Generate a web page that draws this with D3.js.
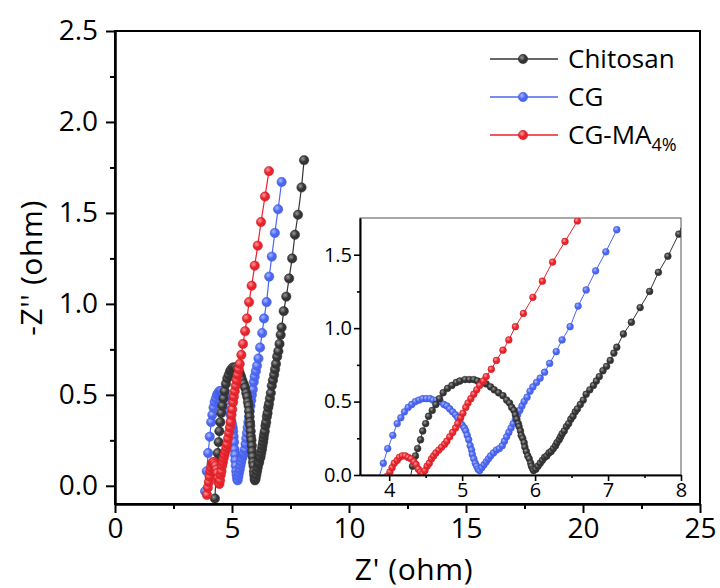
<!DOCTYPE html>
<html>
<head>
<meta charset="utf-8">
<script src="https://cdn.jsdelivr.net/npm/d3@7"></script>
<style>
  body { margin: 0; background: #fff; }
  svg { display: block; font-family: "Open Sans", "Noto Sans", sans-serif; }
</style>
</head>
<body>
<svg id="chart" width="720" height="588"></svg>
<script>
// Nyquist data, [Z' (ohm), -Z'' (ohm)]
const chitosan = [
  [4.27,-0.07],[4.32,0.06],[4.36,0.13],[4.39,0.18],[4.43,0.24],[4.46,0.30],[4.50,0.35],[4.54,0.40],
  [4.59,0.44],[4.64,0.48],[4.69,0.52],[4.74,0.56],[4.80,0.59],[4.86,0.61],[4.92,0.63],[4.97,0.64],
  [5.04,0.65],[5.10,0.65],[5.16,0.65],[5.21,0.64],[5.27,0.63],[5.33,0.62],[5.39,0.60],[5.44,0.58],
  [5.50,0.56],[5.56,0.54],[5.61,0.51],[5.65,0.49],[5.68,0.46],[5.71,0.44],[5.73,0.41],[5.75,0.38],
  [5.77,0.35],[5.78,0.33],[5.80,0.30],[5.81,0.27],[5.83,0.25],[5.85,0.22],[5.86,0.19],[5.88,0.16],
  [5.90,0.13],[5.92,0.11],[5.94,0.08],[5.95,0.06],[5.97,0.04],[5.98,0.03],[6.01,0.04],[6.04,0.06],
  [6.07,0.08],[6.10,0.10],[6.13,0.12],[6.16,0.13],[6.19,0.15],[6.22,0.16],[6.25,0.18],[6.28,0.20],
  [6.30,0.22],[6.33,0.24],[6.35,0.26],[6.37,0.28],[6.40,0.30],[6.43,0.33],[6.46,0.35],[6.49,0.38],
  [6.52,0.40],[6.55,0.43],[6.58,0.45],[6.62,0.48],[6.66,0.51],[6.70,0.55],[6.75,0.58],[6.80,0.61],
  [6.84,0.64],[6.88,0.67],[6.93,0.71],[6.98,0.74],[7.03,0.78],[7.08,0.83],[7.12,0.87],[7.21,0.96],
  [7.32,1.04],[7.44,1.14],[7.57,1.25],[7.69,1.38],[7.82,1.49],[7.97,1.64],[8.08,1.79]
];
const cg = [
  [3.85,-0.03],[3.92,0.08],[3.98,0.18],[4.05,0.27],[4.11,0.35],[4.16,0.39],[4.21,0.43],[4.26,0.46],
  [4.31,0.48],[4.36,0.50],[4.41,0.51],[4.46,0.52],[4.51,0.52],[4.56,0.52],[4.60,0.51],[4.65,0.51],
  [4.70,0.50],[4.75,0.48],[4.79,0.47],[4.83,0.45],[4.87,0.43],[4.91,0.41],[4.94,0.39],[4.97,0.36],
  [5.00,0.34],[5.03,0.32],[5.05,0.30],[5.07,0.27],[5.09,0.24],[5.11,0.20],[5.13,0.17],[5.14,0.14],
  [5.16,0.11],[5.18,0.08],[5.20,0.06],[5.22,0.04],[5.24,0.03],[5.27,0.05],[5.30,0.07],[5.33,0.09],
  [5.36,0.11],[5.39,0.13],[5.43,0.15],[5.47,0.17],[5.51,0.18],[5.55,0.20],[5.58,0.23],[5.61,0.26],
  [5.64,0.29],[5.67,0.32],[5.70,0.35],[5.73,0.38],[5.76,0.41],[5.79,0.44],[5.82,0.47],[5.85,0.50],
  [5.89,0.53],[5.93,0.57],[5.97,0.60],[6.02,0.63],[6.07,0.66],[6.13,0.70],[6.20,0.76],[6.29,0.84],
  [6.37,0.92],[6.48,1.01],[6.59,1.15],[6.70,1.26],[6.83,1.39],[6.97,1.52],[7.12,1.67]
];
const cgma = [
  [3.93,-0.05],[3.97,-0.01],[4.01,0.02],[4.04,0.05],[4.07,0.08],[4.11,0.10],[4.14,0.12],[4.18,0.13],
  [4.22,0.13],[4.26,0.12],[4.30,0.11],[4.34,0.09],[4.37,0.07],[4.40,0.04],[4.43,0.02],[4.46,0.01],
  [4.49,0.03],[4.52,0.06],[4.55,0.08],[4.58,0.11],[4.61,0.13],[4.64,0.15],[4.68,0.17],[4.72,0.19],
  [4.76,0.21],[4.79,0.23],[4.83,0.26],[4.87,0.29],[4.91,0.32],[4.94,0.35],[4.98,0.39],[5.01,0.42],
  [5.05,0.46],[5.08,0.49],[5.12,0.52],[5.16,0.55],[5.20,0.58],[5.24,0.61],[5.29,0.64],[5.33,0.67],
  [5.40,0.72],[5.47,0.78],[5.56,0.85],[5.64,0.92],[5.73,1.01],[5.84,1.10],[5.97,1.21],[6.10,1.32],
  [6.24,1.45],[6.41,1.59],[6.58,1.73]
];

const seriesNames = ["Chitosan", "CG", "CG-MA"];
const seriesColors = ["#343434", "#4a66f2", "#e8232b"];
const seriesHighlights = ["#9a9a9a", "#a9b8ff", "#ff9a9e"];
const seriesData = [chitosan, cg, cgma];
// drawing order: CG underneath, then Chitosan, CG-MA on top
const drawOrder = [1, 0, 2];

const mainXTicks = [0, 5, 10, 15, 20, 25];
const mainXMinor = [2.5, 7.5, 12.5, 17.5, 22.5];
const mainYTicks = [0, 0.5, 1.0, 1.5, 2.0, 2.5];
const mainYMinor = [0.25, 0.75, 1.25, 1.75, 2.25];
const insetXTicks = [4, 5, 6, 7, 8];
const insetXMinor = [4.5, 5.5, 6.5, 7.5];
const insetYTicks = [0, 0.5, 1.0, 1.5];
const insetYMinor = [0.25, 0.75, 1.25];

const svg = d3.select("#chart");
const defs = svg.append("defs");

seriesColors.forEach((c, i) => {
  const g = defs.append("radialGradient").attr("id", "ball" + i)
    .attr("cx", "38%").attr("cy", "35%").attr("r", "65%");
  g.append("stop").attr("offset", "0%").attr("stop-color", seriesHighlights[i]);
  g.append("stop").attr("offset", "55%").attr("stop-color", c);
  g.append("stop").attr("offset", "100%").attr("stop-color", c);
});

// ---------- main plot ----------
const M = { left: 115, right: 700, top: 31, bottom: 504 };
const x = d3.scaleLinear().domain([0, 25]).range([M.left, M.right]);
const y = d3.scaleLinear().domain([-0.1, 2.5]).range([M.bottom, M.top]);

defs.append("clipPath").attr("id", "clipMain").append("rect")
  .attr("x", M.left).attr("y", M.top).attr("width", M.right - M.left).attr("height", M.bottom - M.top);

svg.append("rect").attr("x", 0).attr("y", 0).attr("width", 720).attr("height", 588).attr("fill", "#fff");

function drawSeries(parent, xs, ys, r, lw) {
  drawOrder.forEach(i => {
    const data = seriesData[i];
    const g = parent.append("g");
    g.append("path").datum(data)
      .attr("fill", "none").attr("stroke", seriesColors[i]).attr("stroke-width", lw)
      .attr("d", d3.line().x(d => xs(d[0])).y(d => ys(d[1])));
    g.selectAll("circle").data(data).join("circle")
      .attr("cx", d => xs(d[0])).attr("cy", d => ys(d[1])).attr("r", r)
      .attr("fill", `url(#ball${i})`)
      .attr("stroke", d3.color(seriesColors[i]).darker(0.4)).attr("stroke-width", 0.5);
  });
}

const mainData = svg.append("g").attr("clip-path", "url(#clipMain)");
drawSeries(mainData, x, y, 4.7, 1.2);

// frame
svg.append("rect").attr("x", M.left).attr("y", M.top)
  .attr("width", M.right - M.left).attr("height", M.bottom - M.top)
  .attr("fill", "none").attr("stroke", "#000").attr("stroke-width", 2);

function styleAxis(g, fontSize, lw) {
  g.select(".domain").attr("stroke", "#000").attr("stroke-width", lw);
  g.selectAll(".tick line").attr("stroke", "#000").attr("stroke-width", lw);
  g.selectAll(".tick text").attr("fill", "#000").style("font-size", fontSize + "px")
    .style("font-family", '"Open Sans", "Noto Sans", sans-serif');
}

const xAxis = svg.append("g").attr("transform", `translate(0,${M.bottom})`)
  .call(d3.axisBottom(x).tickValues(mainXTicks).tickFormat(d3.format("d")).tickSize(9).tickSizeOuter(0).tickPadding(5));
styleAxis(xAxis, 28, 2);
const xMinor = svg.append("g").attr("transform", `translate(0,${M.bottom})`)
  .call(d3.axisBottom(x).tickValues(mainXMinor).tickFormat("").tickSize(5).tickSizeOuter(0));
styleAxis(xMinor, 28, 2);

const yAxis = svg.append("g").attr("transform", `translate(${M.left},0)`)
  .call(d3.axisLeft(y).tickValues(mainYTicks).tickFormat(d3.format(".1f")).tickSize(9).tickSizeOuter(0).tickPadding(8));
styleAxis(yAxis, 28, 2);
const yMinor = svg.append("g").attr("transform", `translate(${M.left},0)`)
  .call(d3.axisLeft(y).tickValues(mainYMinor).tickFormat("").tickSize(5).tickSizeOuter(0));
styleAxis(yMinor, 28, 2);

svg.append("text").attr("x", 414).attr("y", 580).attr("text-anchor", "middle")
  .style("font-size", "30px").style("letter-spacing", "0.6px").attr("fill", "#000").text("Z' (ohm)");
svg.append("text").attr("transform", "translate(42,268) rotate(-90)").attr("text-anchor", "middle")
  .style("font-size", "30px").style("letter-spacing", "0.6px").attr("fill", "#000").text("-Z'' (ohm)");

// ---------- legend ----------
const legendRows = [59, 97, 135];
seriesNames.forEach((name, i) => {
  const gy = legendRows[i];
  const g = svg.append("g");
  g.append("line").attr("x1", 490).attr("x2", 558).attr("y1", gy).attr("y2", gy)
    .attr("stroke", seriesColors[i]).attr("stroke-width", 1.3);
  g.append("circle").attr("cx", 523).attr("cy", gy).attr("r", 4.7)
    .attr("fill", `url(#ball${i})`).attr("stroke", d3.color(seriesColors[i]).darker(0.4)).attr("stroke-width", 0.5);
  const t = g.append("text").attr("x", 568).attr("y", gy).attr("dy", "0.35em")
    .style("font-size", "26px").attr("fill", "#000").text(name);
  if (i === 2) {
    t.append("tspan").attr("dy", "7").style("font-size", "18px").text("4%");
  }
});

// ---------- inset ----------
const I = { left: 360, right: 681, top: 218, bottom: 475 };
const xi = d3.scaleLinear().domain([3.6, 8]).range([I.left, I.right]);
const yi = d3.scaleLinear().domain([0, 1.75]).range([I.bottom, I.top]);

defs.append("clipPath").attr("id", "clipInset").append("rect")
  .attr("x", I.left).attr("y", I.top).attr("width", I.right - I.left).attr("height", I.bottom - I.top);

svg.append("rect").attr("x", I.left).attr("y", I.top)
  .attr("width", I.right - I.left).attr("height", I.bottom - I.top)
  .attr("fill", "#fff").attr("stroke", "#555").attr("stroke-width", 1);

const insetData = svg.append("g").attr("clip-path", "url(#clipInset)");
drawSeries(insetData, xi, yi, 3.4, 1);

const xiAxis = svg.append("g").attr("transform", `translate(0,${I.bottom})`)
  .call(d3.axisBottom(xi).tickValues(insetXTicks).tickFormat(d3.format("d")).tickSize(6).tickSizeOuter(0).tickPadding(2));
styleAxis(xiAxis, 20, 1.6);
const xiMinor = svg.append("g").attr("transform", `translate(0,${I.bottom})`)
  .call(d3.axisBottom(xi).tickValues(insetXMinor).tickFormat("").tickSize(3).tickSizeOuter(0));
styleAxis(xiMinor, 20, 1.6);

const yiAxis = svg.append("g").attr("transform", `translate(${I.left},0)`)
  .call(d3.axisLeft(yi).tickValues(insetYTicks).tickFormat(d3.format(".1f")).tickSize(6).tickSizeOuter(0).tickPadding(2));
styleAxis(yiAxis, 20, 1.6);
const yiMinor = svg.append("g").attr("transform", `translate(${I.left},0)`)
  .call(d3.axisLeft(yi).tickValues(insetYMinor).tickFormat("").tickSize(3).tickSizeOuter(0));
styleAxis(yiMinor, 20, 1.6);
</script>
</body>
</html>
